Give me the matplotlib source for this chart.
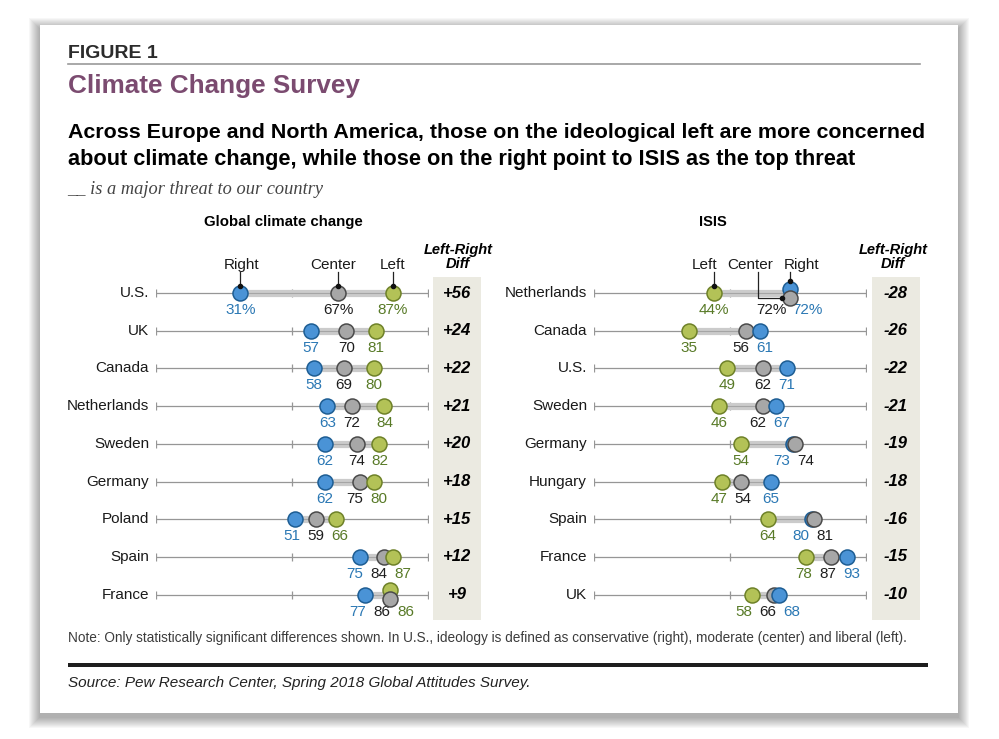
import numpy as np
import matplotlib
matplotlib.use("Agg")
import matplotlib.pyplot as plt
from matplotlib import font_manager
from matplotlib.patches import Rectangle

# ---- data -------------------------------------------------------------
climate_countries = ["U.S.", "UK", "Canada", "Netherlands", "Sweden",
                     "Germany", "Poland", "Spain", "France"]
climate_right = [31, 57, 58, 63, 62, 62, 51, 75, 77]
climate_center = [67, 70, 69, 72, 74, 75, 59, 84, 86]
climate_left = [87, 81, 80, 84, 82, 80, 66, 87, 86]

isis_countries = ["Netherlands", "Canada", "U.S.", "Sweden", "Germany",
                  "Hungary", "Spain", "France", "UK"]
isis_left = [44, 35, 49, 46, 54, 47, 64, 78, 58]
isis_center = [72, 56, 62, 62, 74, 54, 81, 87, 66]
isis_right = [72, 61, 71, 67, 73, 65, 80, 93, 68]

# ---- style ------------------------------------------------------------
W, H, DPI = 999, 739, 100
PT = 72 / DPI          # points per pixel
ROW0, ROW_STEP = 293, 37.7
PX_PER_UNIT = 2.72

BLUE = ("#4a93d6", "#1d5d93", "#2b78b4")
GRAY = ("#a7a7a7", "#4a4a4a", "#1e1e1e")
GREEN = ("#b3c257", "#6e8128", "#587a27")


def has_font(name):
    try:
        font_manager.findfont(font_manager.FontProperties(family=name),
                              fallback_to_default=False)
        return True
    except Exception:
        return False


SANS = "Liberation Sans"
NARROW = "Liberation Sans Narrow" if has_font("Liberation Sans Narrow") else SANS
SERIF = "Liberation Serif"
plt.rcParams["font.family"] = [SANS, "DejaVu Sans"]

fig = plt.figure(figsize=(W / DPI, H / DPI), dpi=DPI)
fig.patch.set_facecolor("white")
bg = fig.add_axes([0, 0, 1, 1])
bg.set_xlim(0, W)
bg.set_ylim(H, 0)
bg.axis("off")

# card with soft shadow
for k in range(11, 0, -1):
    bg.add_patch(Rectangle((40 - k, 25 - k + 4), 918 + 2 * k, 688 + 2 * k,
                           facecolor="black", alpha=0.03, lw=0))
bg.add_patch(Rectangle((40, 25), 918, 688, facecolor="white", lw=0))

renderer = fig.canvas.get_renderer()


def fit_text(x, y, s, width, **kw):
    t = bg.text(x, y, s, **kw)
    w = t.get_window_extent(renderer).width
    t.set_fontsize(t.get_fontsize() * width / w)
    return t


bg.text(68, 53, "FIGURE 1", fontsize=14, fontweight="bold", color="#2b2b2b",
        va="center", ha="left")
bg.plot([68, 920], [64, 64], color="#9a9a9a", lw=1.2)
fit_text(68, 86, "Climate Change Survey", 291, fontsize=18, fontweight="bold",
         color="#7b4b70", va="center", ha="left")
fit_text(68, 138, "Across Europe and North America, those on the ideological left are more concerned",
         859, fontsize=15, fontweight="bold", family=NARROW, color="black",
         va="baseline", ha="left")
fit_text(68, 165, "about climate change, while those on the right point to ISIS as the top threat",
         792, fontsize=15, fontweight="bold", family=NARROW, color="black",
         va="baseline", ha="left")
fit_text(67, 190, "__ is a major threat to our country", 256, fontsize=12.5,
         family=SERIF, style="italic", color="#444444", va="center", ha="left")

fit_text(283, 222, "Global climate change", 160, fontsize=10.5, fontweight="bold",
         ha="center", va="center")
bg.text(713, 222, "ISIS", fontsize=10.5, fontweight="bold", ha="center", va="center")

# diff columns
for bx, hx in [(433, 458), (872, 893)]:
    bg.add_patch(Rectangle((bx, 277), 48, 343, facecolor="#ebeae1", lw=0))
    bg.text(hx, 257, "Left-Right\nDiff", fontsize=10.5, fontweight="bold",
            style="italic", ha="center", va="center", linespacing=1.05)

fit_text(68, 638, "Note: Only statistically significant differences shown. In U.S., ideology is "
         "defined as conservative (right), moderate (center) and liberal (left).",
         843, fontsize=9.5, family=NARROW, color="#3c3c3c", va="center", ha="left")
bg.plot([68, 928], [665, 665], color="#1e1e1e", lw=4 * PT, solid_capstyle="butt")
fit_text(68, 683, "Source: Pew Research Center, Spring 2018 Global Attitudes Survey.",
         462, fontsize=11, family=NARROW, style="italic", color="#222222",
         va="center", ha="left")


# ---- panels -----------------------------------------------------------
def spread_labels(vals, gap):
    order = sorted(range(len(vals)), key=lambda k: (vals[k], k))
    clusters = [[k] for k in order]

    def place(cl):
        c = np.mean([vals[k] for k in cl])
        n = len(cl)
        return [c + (j - (n - 1) / 2) * gap for j in range(n)]

    merged = True
    while merged:
        merged = False
        for a in range(len(clusters) - 1):
            if place(clusters[a + 1])[0] - place(clusters[a])[-1] < gap:
                clusters[a] = clusters[a] + clusters.pop(a + 1)
                merged = True
                break
    out = [0.0] * len(vals)
    for cl in clusters:
        for k, p in zip(cl, place(cl)):
            out[k] = p
    return out


def make_panel(x0):
    top, bot = 270, 620
    ax = fig.add_axes([x0 / W, 1 - bot / H, 100 * PX_PER_UNIT / W, (bot - top) / H])
    ax.set_xlim(0, 100)
    ax.set_ylim((bot - ROW0) / ROW_STEP, (top - ROW0) / ROW_STEP)
    ax.axis("off")
    ax.patch.set_alpha(0)
    return ax


def draw_panel(ax, countries, series, callouts):
    names = [s[0] for s in series]
    r_px = 7.4
    for i, country in enumerate(countries):
        vals = [s[1][i] for s in series]
        ax.plot([0, 100], [i, i], color="#969696", lw=0.9, zorder=1)
        ax.plot([0, 50, 100], [i, i, i], ls="none", marker="|", ms=6, mew=0.9,
                color="#969696", zorder=1)
        lo, hi = min(vals), max(vals)
        ax.plot([lo, hi], [i, i], color="#cbcbcb", lw=5.2, solid_capstyle="butt", zorder=2)
        ax.plot([lo, hi], [i, i], color="#a5a5a5", lw=0.8, zorder=2.1)

        dy = [0.0] * len(vals)
        for k in range(len(vals)):
            for j in range(k):
                if vals[j] == vals[k]:
                    dy[j], dy[k] = 4.5 / ROW_STEP, -4.5 / ROW_STEP
        for k, (name, _, colors) in enumerate(series):
            ax.plot(vals[k], i + dy[k], "o", ms=10.8, mfc=colors[0], mec=colors[1],
                    mew=1.1, zorder=3 + vals[k] / 1000 - k / 10000)

        suffix = "%" if i == 0 else ""
        texts = [f"{v}{suffix}" for v in vals]
        gap = 4.4 * max(len(t) for t in texts)
        for k, (lx, t) in enumerate(zip(spread_labels(vals, gap), texts)):
            ax.annotate(t, xy=(lx, i), xytext=(0, -17 * PT), textcoords="offset points",
                        ha="center", va="center", fontsize=11, color=series[k][2][2])

        ax.annotate(country, xy=(0, i), xytext=(-7 * PT, 0), textcoords="offset points",
                    ha="right", va="center", fontsize=11, color="#1a1a1a")
        diff = series[names.index("Left")][1][i] - series[names.index("Right")][1][i]
        ax.text(1.108, i, f"{diff:+d}", transform=ax.get_yaxis_transform(),
                ha="center", va="center", fontsize=12, fontweight="bold", style="italic")

        if i == 0:
            # Right / Center / Left callouts above the first row
            for k, text_dx, elbow_dx in callouts:
                v = vals[k]
                cy = dy[k]
                ty = -28 / ROW_STEP
                ax.text(v + text_dx / PX_PER_UNIT, ty, names[k], ha="center", va="center",
                        fontsize=11, color="#1a1a1a")
                y_start = -21 / ROW_STEP
                if elbow_dx is None:
                    y_end = cy - r_px / ROW_STEP
                    ax.plot([v, v], [y_start, y_end], color="#222222", lw=0.9, zorder=2.5)
                    ax.plot(v, y_end, "o", ms=3, color="#111111", zorder=6)
                else:
                    xe = v + elbow_dx / PX_PER_UNIT
                    x_end = v - r_px / PX_PER_UNIT
                    ax.plot([xe, xe, x_end], [y_start, cy, cy], color="#222222",
                            lw=0.9, zorder=2.5)
                    ax.plot(x_end, cy, "o", ms=3, color="#111111", zorder=6)


ax_l = make_panel(156)
draw_panel(ax_l, climate_countries,
           [("Right", climate_right, BLUE),
            ("Center", climate_center, GRAY),
            ("Left", climate_left, GREEN)],
           [(0, 1, None), (1, -5, None), (2, 0, None)])

ax_r = make_panel(594)
draw_panel(ax_r, isis_countries,
           [("Left", isis_left, GREEN),
            ("Center", isis_center, GRAY),
            ("Right", isis_right, BLUE)],
           [(0, -9, None), (1, -40, -32), (2, 12, None)])

fig.savefig("out.png", dpi=DPI, facecolor="white")
